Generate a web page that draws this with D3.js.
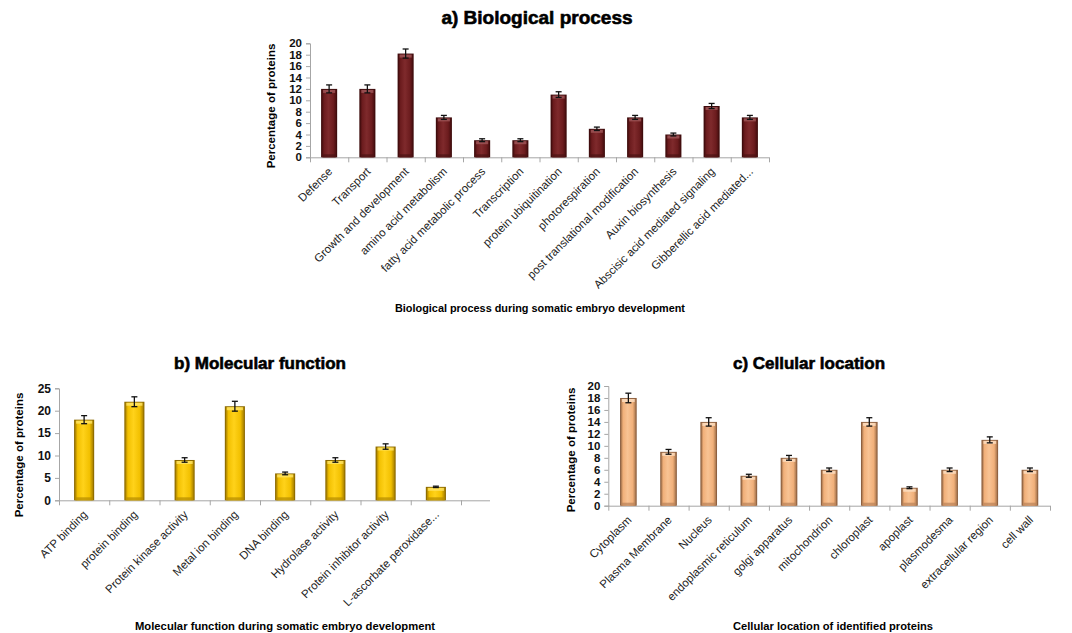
<!DOCTYPE html>
<html>
<head>
<meta charset="utf-8">
<script src="https://cdn.jsdelivr.net/npm/d3@7/dist/d3.min.js"></script>
<style>
  html, body { margin: 0; padding: 0; background: #fff; }
  svg { display: block; font-family: "Liberation Sans", Arial, sans-serif; }
</style>
</head>
<body>
<svg id="chart" width="1072" height="633"></svg>
<script>
// ---- a) Biological process ----
const bioCategories = ["Defense", "Transport", "Growth and development", "amino acid metabolism",
  "fatty acid metabolic process", "Transcription", "protein ubiquitination", "photorespiration",
  "post translational modification", "Auxin biosynthesis", "Abscisic acid mediated signaling",
  "Gibberellic acid mediated..."];
const bioValues = [12, 12, 18.2, 7, 3, 3, 11, 5, 7, 4, 9, 7];
const bioErrors = [0.7, 0.7, 0.8, 0.35, 0.25, 0.25, 0.5, 0.3, 0.35, 0.25, 0.45, 0.35];
const bioTicks = [0, 2, 4, 6, 8, 10, 12, 14, 16, 18, 20];

// ---- b) Molecular function ----
const molCategories = ["ATP binding", "protein binding", "Protein kinase activity", "Metal ion binding",
  "DNA binding", "Hydrolase activity", "Protein inhibitor activity", "L-ascorbate peroxidase..."];
const molValues = [18, 22, 9, 21, 6, 9, 12, 3];
const molErrors = [0.9, 1.1, 0.5, 1.1, 0.3, 0.5, 0.6, 0.15];
const molTicks = [0, 5, 10, 15, 20, 25];

// ---- c) Cellular location ----
const cellCategories = ["Cytoplasm", "Plasma Membrane", "Nucleus", "endoplasmic reticulum",
  "golgi apparatus", "mitochondrion", "chloroplast", "apoplast", "plasmodesma",
  "extracellular region", "cell wall"];
const cellValues = [18, 9, 14, 5, 8, 6, 14, 3, 6, 11, 6];
const cellErrors = [0.8, 0.4, 0.7, 0.25, 0.4, 0.3, 0.7, 0.15, 0.3, 0.5, 0.3];
const cellTicks = [0, 2, 4, 6, 8, 10, 12, 14, 16, 18, 20];

const svg = d3.select("#chart");
const defs = svg.append("defs");

function makeGradient(id, edge, main, light) {
  const g = defs.append("linearGradient").attr("id", id)
    .attr("x1", "0%").attr("x2", "100%").attr("y1", "0%").attr("y2", "0%");
  [[0, edge], [0.14, main], [0.45, light], [0.8, main], [1, edge]].forEach(([o, c]) =>
    g.append("stop").attr("offset", o).attr("stop-color", c));
}
makeGradient("gMaroon", "#4a0f10", "#6c1c1e", "#7f2a2c");
makeGradient("gGold", "#a98100", "#f2c000", "#ffd21a");
makeGradient("gPeach", "#a8764e", "#f1b07a", "#f8c394");

const palettes = {
  maroon: { grad: "url(#gMaroon)", edge: "#3e0b0c", top: "#a0585a", bottom: "#4a1213" },
  gold:   { grad: "url(#gGold)",   edge: "#8c6a00", top: "#ffe566", bottom: "#b38a00" },
  peach:  { grad: "url(#gPeach)",  edge: "#8d6040", top: "#fde0c4", bottom: "#b98158" }
};

function drawChart(cfg) {
  const { x0, x1, yBase, yTop, yMax, categories, values, errors, ticks, pal } = cfg;
  const g = svg.append("g");
  const x = d3.scaleBand().domain(categories).range([x0, x1]).paddingInner(0).paddingOuter(0);
  const y = d3.scaleLinear().domain([0, yMax]).range([yBase, yTop]);
  const bw = x.bandwidth() * cfg.barFrac;
  const p = palettes[pal];

  // y axis
  const yAxis = g.append("g").attr("transform", `translate(${x0},0)`)
    .call(d3.axisLeft(y).tickValues(ticks).tickSize(4).tickPadding(4));
  yAxis.select(".domain").attr("stroke", "#a6a6a6");
  yAxis.selectAll(".tick line").attr("stroke", "#a6a6a6");
  yAxis.selectAll(".tick text").attr("font-family", "Liberation Sans, Arial, sans-serif")
    .attr("font-weight", "bold").attr("font-size", cfg.tickFont).attr("fill", "#111");

  // x axis: line plus ticks at category boundaries
  g.append("line").attr("x1", x0).attr("x2", cfg.axisEnd || x1)
    .attr("y1", yBase + 0.5).attr("y2", yBase + 0.5).attr("stroke", "#a6a6a6");
  const bounds = categories.map(c => x(c)).concat([x1]);
  g.selectAll(".xt").data(bounds).enter().append("line")
    .attr("x1", d => d + 0.5).attr("x2", d => d + 0.5)
    .attr("y1", yBase).attr("y2", yBase + 5).attr("stroke", "#a6a6a6");

  // bars
  const bars = g.selectAll(".bar").data(categories).enter().append("g");
  bars.append("rect")
    .attr("x", d => x(d) + (x.bandwidth() - bw) / 2)
    .attr("y", (d, i) => y(values[i]))
    .attr("width", bw)
    .attr("height", (d, i) => yBase - y(values[i]))
    .attr("fill", p.edge);
  bars.append("rect")
    .attr("x", d => x(d) + (x.bandwidth() - bw) / 2 + 1)
    .attr("y", (d, i) => y(values[i]) + 1)
    .attr("width", bw - 2)
    .attr("height", (d, i) => yBase - y(values[i]) - 1)
    .attr("fill", p.grad);
  // light bevel along the top face
  bars.append("rect")
    .attr("x", d => x(d) + (x.bandwidth() - bw) / 2 + 2)
    .attr("y", (d, i) => y(values[i]) + 1)
    .attr("width", bw - 4)
    .attr("height", 3)
    .attr("fill", p.top).attr("opacity", 0.8);
  // dark bevel along the bottom face
  bars.append("rect")
    .attr("x", d => x(d) + (x.bandwidth() - bw) / 2 + 2)
    .attr("y", yBase - 3)
    .attr("width", bw - 4)
    .attr("height", 3)
    .attr("fill", p.bottom).attr("opacity", 0.7);

  // error bars
  const eb = g.selectAll(".err").data(categories).enter().append("g")
    .attr("stroke", "#111").attr("stroke-width", 1.3);
  const cx = d => x(d) + x.bandwidth() / 2;
  eb.append("line").attr("x1", cx).attr("x2", cx)
    .attr("y1", (d, i) => y(values[i] + errors[i])).attr("y2", (d, i) => y(values[i] - errors[i]));
  eb.append("line").attr("x1", d => cx(d) - 3).attr("x2", d => cx(d) + 3)
    .attr("y1", (d, i) => y(values[i] + errors[i])).attr("y2", (d, i) => y(values[i] + errors[i]));
  eb.append("line").attr("x1", d => cx(d) - 3).attr("x2", d => cx(d) + 3)
    .attr("y1", (d, i) => y(values[i] - errors[i])).attr("y2", (d, i) => y(values[i] - errors[i]));

  // rotated category labels
  g.selectAll(".xl").data(categories).enter().append("text")
    .attr("transform", d => `translate(${cx(d) + 4},${yBase + 15}) rotate(-45)`)
    .attr("text-anchor", "end")
    .attr("font-size", cfg.labelFont).attr("fill", "#222")
    .text(d => d);

  // title
  g.append("text").attr("x", cfg.titleX).attr("y", cfg.titleY)
    .attr("text-anchor", "middle").attr("font-weight", "bold").attr("font-size", cfg.titleFont || 17)
    .attr("stroke", "#000").attr("stroke-width", 0.6).attr("fill", "#000")
    .text(cfg.title);

  // y axis title
  g.append("text")
    .attr("transform", `translate(${cfg.yLabelX},${cfg.yLabelY}) rotate(-90)`)
    .attr("text-anchor", "middle").attr("font-weight", "bold").attr("font-size", 11.5)
    .attr("fill", "#000").text("Percentage of proteins");

  // x axis title
  g.append("text").attr("x", cfg.xTitleX).attr("y", cfg.xTitleY)
    .attr("text-anchor", "middle").attr("font-weight", "bold").attr("font-size", 11)
    .attr("textLength", cfg.xTitleLen).attr("lengthAdjust", "spacingAndGlyphs")
    .attr("fill", "#000").text(cfg.xTitle);
}

drawChart({
  x0: 310, x1: 769, yBase: 157.3, yTop: 43.3, yMax: 20,
  categories: bioCategories, values: bioValues, errors: bioErrors, ticks: bioTicks,
  pal: "maroon", barFrac: 0.42, tickFont: 11.5, labelFont: 11.5,
  title: "a) Biological process", titleX: 537, titleY: 24, titleFont: 19,
  yLabelX: 275, yLabelY: 106,
  xTitle: "Biological process during somatic embryo development", xTitleX: 540, xTitleY: 312, xTitleLen: 290
});

drawChart({
  x0: 59, x1: 461, axisEnd: 490, yBase: 500.3, yTop: 388.3, yMax: 25,
  categories: molCategories, values: molValues, errors: molErrors, ticks: molTicks,
  pal: "gold", barFrac: 0.4, tickFont: 12, labelFont: 11.5,
  title: "b) Molecular function", titleX: 260, titleY: 369,
  yLabelX: 23, yLabelY: 455,
  xTitle: "Molecular function during somatic embryo development", xTitleX: 285, xTitleY: 630, xTitleLen: 300
});

drawChart({
  x0: 608.3, x1: 1050, yBase: 505.7, yTop: 386, yMax: 20,
  categories: cellCategories, values: cellValues, errors: cellErrors, ticks: cellTicks,
  pal: "peach", barFrac: 0.415, tickFont: 11.5, labelFont: 11.5,
  title: "c) Cellular location", titleX: 809, titleY: 369,
  yLabelX: 575, yLabelY: 450,
  xTitle: "Cellular location of identified proteins", xTitleX: 833, xTitleY: 630, xTitleLen: 200
});
</script>
</body>
</html>
